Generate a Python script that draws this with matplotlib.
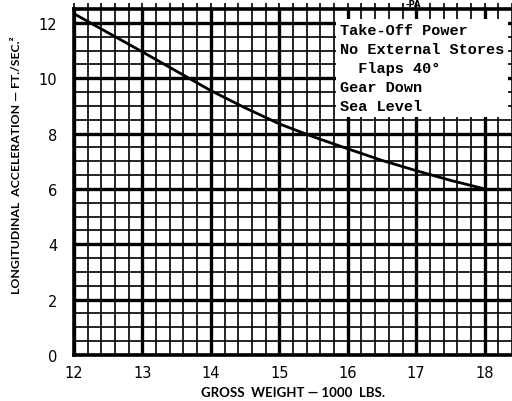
#!/usr/bin/env python3
"""
Longitudinal acceleration vs gross weight (take-off chart)
"""

import numpy as np
import matplotlib
matplotlib.use('Agg')
import matplotlib.pyplot as plt

# curve
gross_weight = [12.0, 12.5, 13.0, 13.5, 14.0, 14.5, 15.0, 15.5, 16.0, 16.5, 17.0, 17.5, 18.0]
accel = [12.33, 11.64, 10.95, 10.25, 9.55, 8.93, 8.35, 7.88, 7.45, 7.03, 6.66, 6.31, 6.0]

x_ticks = [12, 13, 14, 15, 16, 17, 18]
y_ticks = [0, 2, 4, 6, 8, 10, 12]
note_lines = ['Take-Off Power', 'No External Stores', '  Flaps 40°', 'Gear Down', 'Sea Level']

W, H = 512, 402
fig = plt.figure(figsize=(W / 100, H / 100), dpi=100)
ax = fig.add_axes([74 / W, 1 - 356 / H, 1 - 74 / W, (356 - 10) / H])

ax.plot(gross_weight, accel, color='black', linewidth=2.0, zorder=5)

ax.set_xlim(12, 12 + (W - 74) / 70.0)
ax.set_ylim(0, 12.5)
ax.set_xticks(x_ticks)
ax.set_yticks(y_ticks)
ax.set_xticks(np.arange(12, 18.5, 0.2), minor=True)
ax.set_yticks(np.arange(0, 12.6, 0.5), minor=True)

ax.grid(True, which='major', color='black', linewidth=2.4)
ax.grid(True, which='minor', color='black', linewidth=1.2)
ax.set_axisbelow(True)

for side in ['left', 'bottom', 'top']:
    ax.spines[side].set_linewidth(2.6)
ax.spines['right'].set_visible(False)

ax.tick_params(which='both', left=False, bottom=False, labelsize=10.5)
ax.tick_params(axis='y', pad=8)
ax.tick_params(axis='x', pad=3)
ax.tick_params(which='minor', top=True, direction='out', length=4, width=1.2)
ax.tick_params(which='major', top=True, direction='out', length=4, width=1.2)

fig.text(293 / W, 1 - 393 / H, 'GROSS  WEIGHT — 1000  LBS.', ha='center', va='center',
         fontsize=9.5, fontweight='bold', family='Lato')
fig.text(17 / W, 1 - 165 / H, 'LONGITUDINAL  ACCELERATION — FT./SEC.²', rotation=90,
         ha='center', va='center', fontsize=8.8, fontweight='bold', family='Lato')

fig.text(340 / W, 1 - 24 / H, '\n'.join(note_lines), ha='left', va='top',
         family='Liberation Mono', fontsize=11, fontweight='bold', linespacing=1.45,
         bbox=dict(facecolor='white', edgecolor='none', pad=3))

fig.text(413 / W, 1.0, '-PA', ha='center', va='top', fontsize=6, fontweight='bold')

fig.savefig('out.png', dpi=100, facecolor='white')
